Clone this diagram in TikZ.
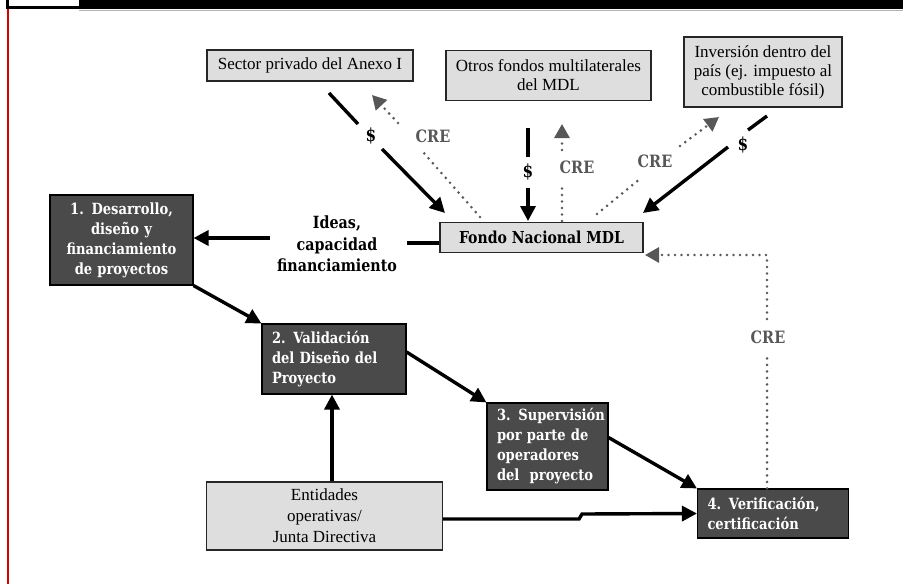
\documentclass[tikz,border=0pt]{standalone}
\usepackage{fontspec}
\setmainfont{Liberation Serif}
\newfontfamily\boldserif{DejaVu Serif}[FakeStretch=0.85]
\usetikzlibrary{arrows.meta,calc}

\tikzset{
  pale/.style={draw=black!85, line width=1.1pt, fill=black!13, align=center,
    font=\fontsize{17}{19}\selectfont, inner sep=2pt},
  dark/.style={draw=black, line width=1.1pt, fill=black!71, text=white, inner xsep=10pt,
    font=\boldserif\bfseries\fontsize{15.4}{20}\selectfont},
  flow/.style={black, line width=3.4pt},
  flowarr/.style={flow, -{Triangle[length=15pt,width=15pt]}},
  credit/.style={black!66, line width=2.9pt, line cap=round, dash pattern=on 0pt off 6.5pt},
  creditarr/.style={credit, -{Triangle[length=14pt,width=15pt]}},
  moneylbl/.style={font=\boldserif\bfseries\fontsize{18}{20}\selectfont, text=black, inner sep=0pt},
  crelbl/.style={font=\boldserif\bfseries\fontsize{17}{18}\selectfont, text=black!66, inner sep=0pt},
  flowlbl/.style={font=\boldserif\bfseries\fontsize{16.8}{21.5}\selectfont, align=center, inner sep=0pt}
}

\begin{document}
\begin{tikzpicture}[x=1pt,y=-1pt]
\useasboundingbox (0,0) rectangle (903,584);

% page header strip and margin rule
\fill[black] (6,0) rectangle (903,9);
\fill[white] (9,0) rectangle (79,6);
\draw[black!30, line width=0.8pt] (79,10) -- (903,10);
\draw[red!85!black, line width=1.8pt] (8,9) -- (8,584);

% funding sources
\node[pale, minimum width=206, minimum height=31] (sp) at (310,65.5) {Sector privado del Anexo I};
\node[pale, minimum width=205, minimum height=50] (of) at (548.5,75.5) {Otros fondos multilaterales\\del MDL};
\node[pale, minimum width=158, minimum height=70] (inv) at (763,72) {Inversión dentro del\\país (ej. impuesto al\\combustible fósil)};

% national fund
\node[pale, minimum width=203, minimum height=30,
      font=\boldserif\bfseries\fontsize{16.5}{18}\selectfont] (fn) at (541.5,237.5) {Fondo Nacional MDL};

% project cycle steps
\node[dark, text width=123, align=center, minimum height=90] (b1) at (121.5,240)
  {\mbox{1. Desarrollo,}\\\mbox{diseño y}\\\mbox{financiamiento}\\\mbox{de proyectos}};
\node[dark, text width=124, align=left, minimum height=70] (b2) at (334,359)
  {\mbox{2. Validación}\\\mbox{del Diseño del}\\\mbox{Proyecto}};
\node[dark, text width=101, align=left, minimum height=87] (b3) at (547.5,446.5)
  {\mbox{3. Supervisión}\\\mbox{por parte de}\\\mbox{operadores}\\\mbox{del\ \ proyecto}};
\node[dark, text width=131, align=left, minimum height=49] (b4) at (773,513.5)
  {\mbox{4. Verificación,}\\\mbox{certificación}};

% operating entities
\node[pale, minimum width=236, minimum height=68, font=\fontsize{17}{21}\selectfont] (ent) at (324.5,516)
  {Entidades\\operativas/\\Junta Directiva};

% money and credit flows between sources and fund
\coordinate (m1a) at (329,93);   \coordinate (m1b) at (358,124);
\coordinate (m1c) at (382,149);  \coordinate (m1d) at (445,213);
\draw[flow] (m1a) -- (m1b);
\draw[flowarr] (m1c) -- (m1d);
\node[moneylbl] (d1) at (371,136) {\$};

\coordinate (c1a) at (480,217);  \coordinate (c1b) at (423,152);
\coordinate (c1c) at (398,123);  \coordinate (c1d) at (372,95);
\draw[credit] (c1a) -- (c1b);
\draw[creditarr] (c1c) -- (c1d);
\node[crelbl] (r1) at (433,136) {CRE};

\coordinate (m2a) at (528,128);  \coordinate (m2b) at (528,157);
\coordinate (m2c) at (528,188);  \coordinate (m2d) at (528,221);
\draw[flow] (m2a) -- (m2b);
\draw[flowarr] (m2c) -- (m2d);
\node[moneylbl] (d2) at (528,172) {\$};

\coordinate (c2a) at (562,221);  \coordinate (c2b) at (562,183);
\coordinate (c2c) at (562,150);  \coordinate (c2d) at (562,124);
\draw[credit] (c2a) -- (c2b);
\draw[creditarr] (c2c) -- (c2d);
\node[crelbl] (r2) at (577,167) {CRE};

\coordinate (c3a) at (597,214);  \coordinate (c3b) at (641,178);
\coordinate (c3c) at (680,146);  \coordinate (c3d) at (719,117);
\draw[credit] (c3a) -- (c3b);
\draw[creditarr] (c3c) -- (c3d);
\node[crelbl] (r3) at (655,161) {CRE};

\coordinate (m3a) at (767,116);  \coordinate (m3b) at (748,130);
\coordinate (m3c) at (728,147);  \coordinate (m3d) at (643,213);
\draw[flow] (m3a) -- (m3b);
\draw[flowarr] (m3c) -- (m3d);
\node[moneylbl] (d3) at (743,145) {\$};

% fund to project development
\coordinate (i1) at (407,243);   \coordinate (i2) at (270,238);
\draw[flow] (fn.west |- i1) -- (i1);
\draw[flowarr] (i2) -- (b1.east |- i2);
\node[flowlbl] (ideas) at (337,244) {Ideas,\\capacidad\\financiamiento};

% project cycle
\draw[flowarr] (b1.south east) -- (b2.north west);
\draw[flowarr] ([yshift=7pt]b2.east) -- (b3.north west);
\draw[flowarr] ([yshift=9pt]b3.east) -- (b4.north west);
\draw[flowarr] (ent.north -| 332,0) -- (b2.south -| 332,0);
\draw[flowarr] ([yshift=-3pt]ent.east) -- ++(136,0) -- ++(3,-5) -- (b4.west);

% issued credits back to the fund
\coordinate (k1) at (767,355);   \coordinate (k2) at (767,319);
\coordinate (k3) at (767,255);   \coordinate (k4) at (645,255);
\draw[credit] (b4.north -| k1) -- (k1);
\draw[creditarr] (k2) -- (k3) -- (k4);
\node[crelbl] (r4) at (768,337) {CRE};
\end{tikzpicture}
\end{document}
